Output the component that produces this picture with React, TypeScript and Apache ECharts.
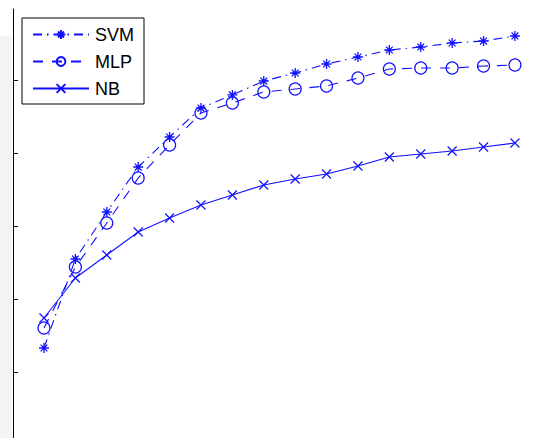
import React, { useEffect, useRef } from "react";
import * as echarts from "echarts";

const xValues = [1, 2, 3, 4, 5, 6, 7, 8, 9, 10, 11, 12, 13, 14, 15, 16];
const svm = [53.29, 65.48, 71.92, 78.08, 82.19, 86.16, 87.95, 89.86, 90.96, 92.19, 93.15, 94.11, 94.52, 95.07, 95.34, 96.03];
const mlp = [56.03, 64.38, 70.41, 76.58, 81.1, 85.48, 86.85, 88.36, 88.77, 89.18, 90.27, 91.51, 91.64, 91.64, 91.92, 92.05];
const nb = [57.4, 62.88, 66.03, 69.18, 71.1, 72.88, 74.25, 75.62, 76.44, 77.12, 78.22, 79.45, 79.86, 80.27, 80.82, 81.37];
const yTicks = [50, 60, 70, 80, 90];
const seriesNames = ["SVM", "MLP", "NB"];

const BLUE = "#1010ff";
const ASTERISK = "path://M5 0L5 10M0 5L10 5M1.6 1.6L8.4 8.4M1.6 8.4L8.4 1.6";
const CROSS = "path://M0 0L10 10M0 10L10 0";

const pairs = (ys: number[]) => xValues.map((x, i) => [x, ys[i]]);

export default function App() {
  const ref = useRef<HTMLDivElement>(null);
  useEffect(() => {
    document.body.style.margin = "0";
    document.body.style.overflow = "hidden";
    if (!ref.current) return;
    const chart = echarts.init(ref.current, undefined, { renderer: "svg" });
    const font = "'Liberation Sans', Arial, Helvetica, sans-serif";
    chart.setOption({
      animation: false,
      backgroundColor: "#ffffff",
      graphic: [
        {
          type: "rect",
          left: 0,
          top: 36,
          z: -10,
          shape: { x: 0, y: 0, width: 12, height: 402 },
          style: { fill: "#f2f3f5" },
          silent: true,
        },
      ],
      grid: { left: 13, top: 9, right: 0, bottom: 0 },
      xAxis: {
        type: "value",
        min: 0.013,
        max: 16.83,
        show: false,
      },
      yAxis: {
        type: "value",
        min: 40.96,
        max: 99.726,
        axisLine: { show: true, lineStyle: { color: "#000", width: 1 } },
        axisTick: {
          show: true,
          inside: true,
          length: 5,
          customValues: yTicks,
          lineStyle: { color: "#000", width: 1 },
        },
        axisLabel: { show: false },
        splitLine: { show: false },
      },
      legend: {
        data: seriesNames,
        orient: "vertical",
        left: 22,
        top: 18,
        padding: [7, 10, 6, 10],
        itemGap: 8,
        itemWidth: 56,
        itemHeight: 11,
        borderColor: "#000",
        borderWidth: 1,
        backgroundColor: "#fff",
        textStyle: { fontSize: 18, fontFamily: font, color: "#000", padding: [0, 0, 0, 1], lineHeight: 19 },
      },
      series: [
        {
          name: "SVM",
          type: "line",
          data: pairs(svm),
          symbol: ASTERISK,
          symbolSize: 10,
          lineStyle: { color: BLUE, width: 1.1, type: [9, 5, 1.5, 5] },
          itemStyle: { color: "transparent", borderColor: BLUE, borderWidth: 1.3 },
        },
        {
          name: "MLP",
          type: "line",
          data: pairs(mlp),
          symbol: "circle",
          symbolSize: 12,
          lineStyle: { color: BLUE, width: 1.1, type: [10, 9] },
          itemStyle: { color: "transparent", borderColor: BLUE, borderWidth: 1.2 },
        },
        {
          name: "NB",
          type: "line",
          data: pairs(nb),
          symbol: CROSS,
          symbolSize: 9,
          lineStyle: { color: BLUE, width: 1.1, type: "solid" },
          itemStyle: { color: "transparent", borderColor: BLUE, borderWidth: 1.2 },
        },
      ],
    });
    return () => chart.dispose();
  }, []);
  return <div ref={ref} style={{ width: 541, height: 438 }} />;
}
